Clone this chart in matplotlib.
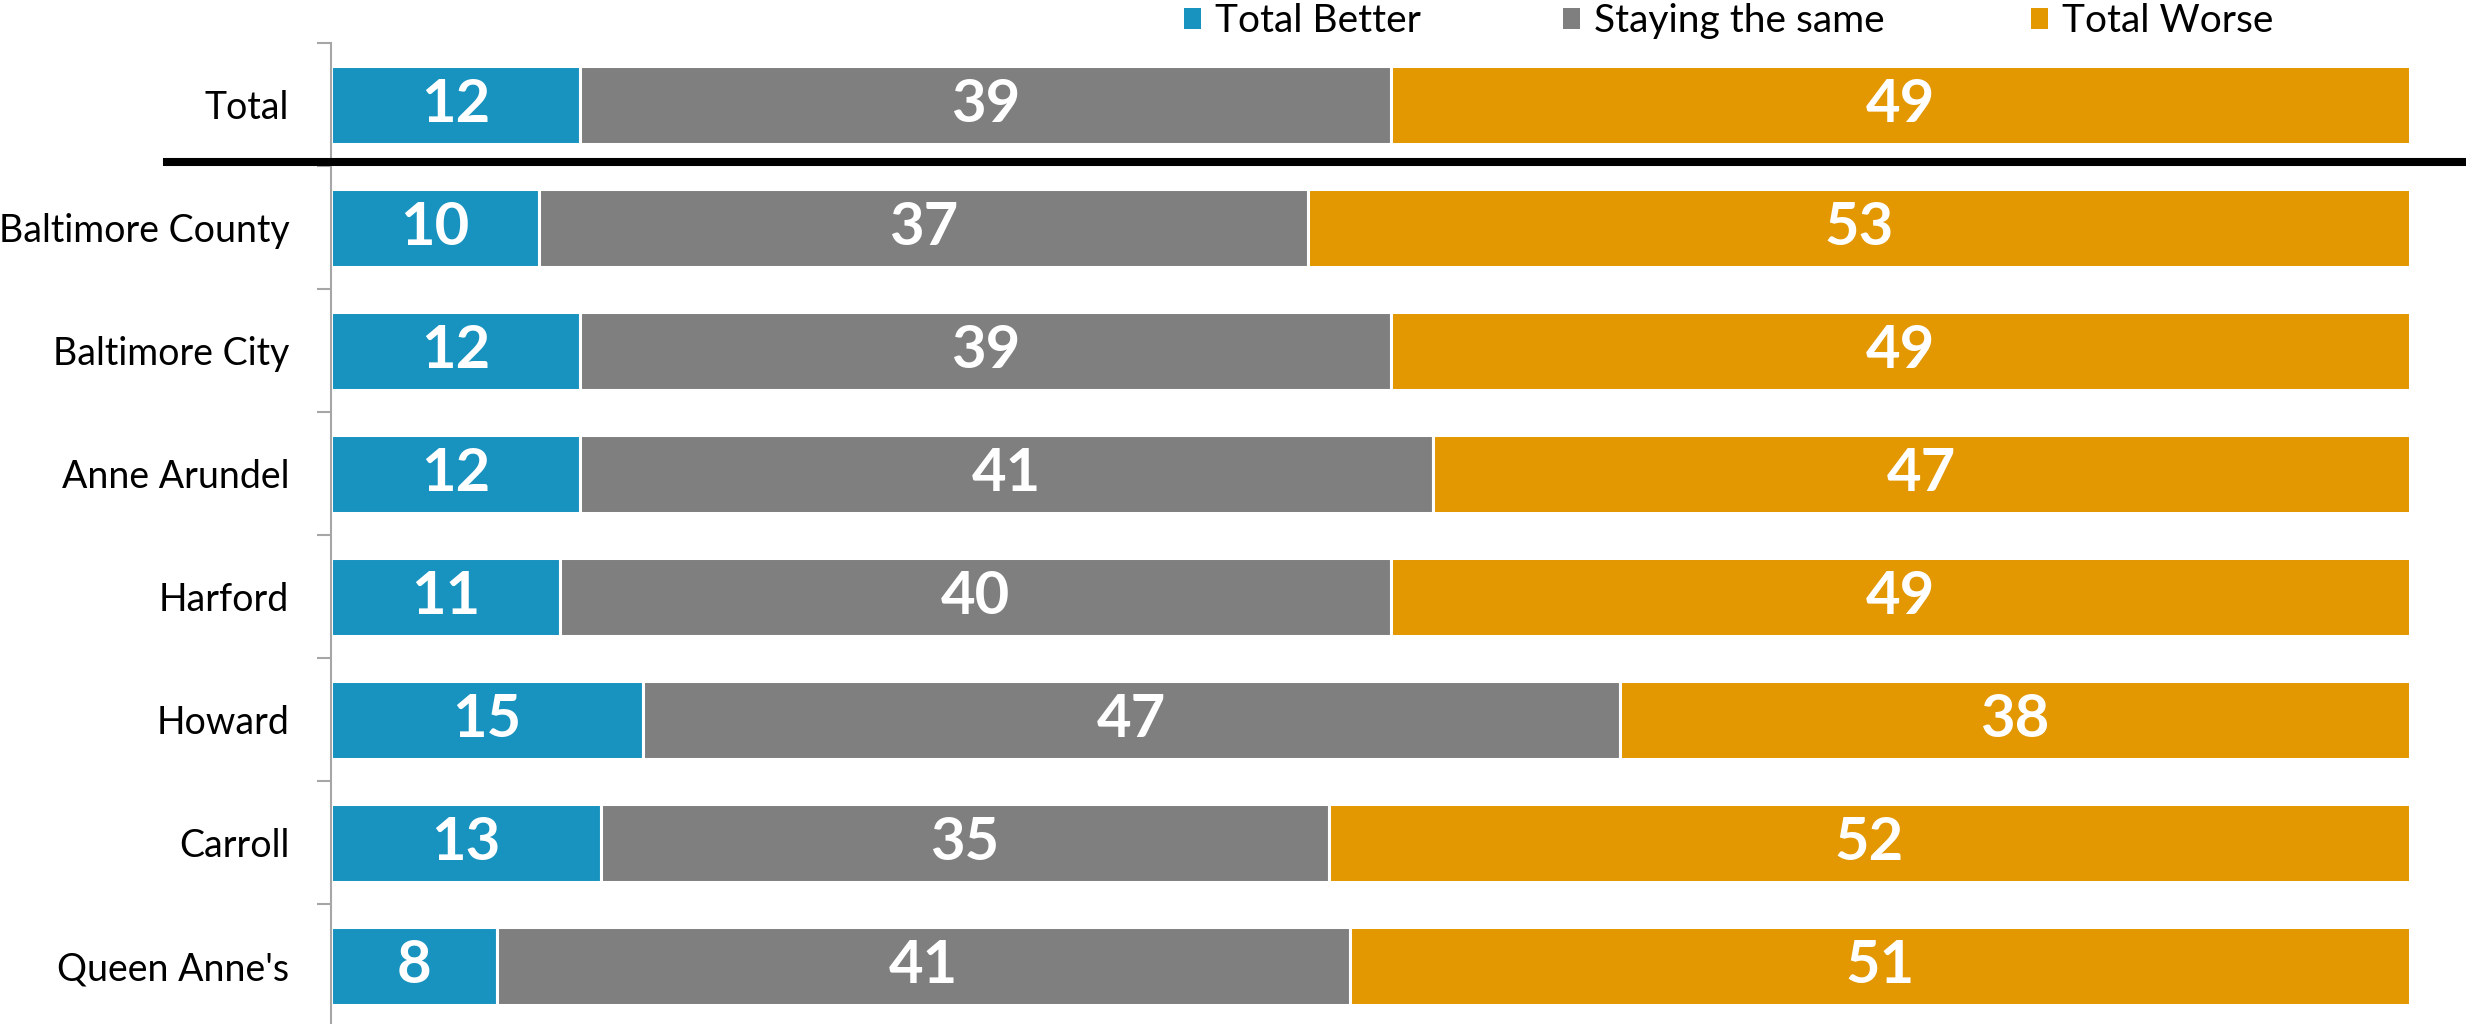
import matplotlib.pyplot as plt
from matplotlib.lines import Line2D
from matplotlib.patches import Patch

plt.rcParams['font.family'] = ['Lato', 'DejaVu Sans']

# data
categories = ['Total', 'Baltimore County', 'Baltimore City', 'Anne Arundel',
              'Harford', 'Howard', 'Carroll', "Queen Anne's"]
better = [12, 10, 12, 12, 11, 15, 13, 8]
same = [39, 37, 39, 41, 40, 47, 35, 41]
worse = [49, 53, 49, 47, 49, 38, 52, 51]
series_names = ['Total Better', 'Staying the same', 'Total Worse']
colors = ['#1893C0', '#7F7F7F', '#E39700']

fig = plt.figure(figsize=(24.66, 10.24), dpi=100)
ax = fig.add_axes([0.1342, -0.003, 0.8431, 0.961])

y = list(range(len(categories)))
left = [0] * len(categories)
for vals, col in zip([better, same, worse], colors):
    bars = ax.barh(y, vals, left=left, height=0.634, color=col,
                   edgecolor='white', linewidth=2.2)
    for b, v in zip(bars, vals):
        ax.text(b.get_x() + b.get_width() / 2, b.get_y() + b.get_height() / 2,
                str(v), ha='center', va='center', color='white',
                fontsize=43, fontweight='bold')
    left = [l + v for l, v in zip(left, vals)]

ax.set_xlim(0, 100)
ax.set_ylim(len(categories) - 0.5, -0.5)
ax.set_yticks(y)
ax.set_yticklabels(categories, fontsize=27)
ax.set_yticks([i - 0.5 for i in range(len(categories) + 1)], minor=True)
ax.tick_params(axis='y', which='major', length=0, pad=30)
ax.tick_params(axis='y', which='minor', length=10, width=1.5, color='#A6A6A6')
ax.set_xticks([])
for s in ['top', 'right', 'bottom']:
    ax.spines[s].set_visible(False)
ax.spines['left'].set_color('#A6A6A6')
ax.spines['left'].set_linewidth(1.5)

# heavy separator under the Total row
fig.add_artist(Line2D([0.0677, 1.0], [0.842, 0.842], color='black',
                      linewidth=5.8, transform=fig.transFigure))

# legend entries placed one by one, like the spreadsheet layout
legend_x = [0.4801, 0.6338, 0.8236]
for name, col, lx in zip(series_names, colors, legend_x):
    leg = fig.legend([Patch(facecolor=col, edgecolor='none')], [name],
                     loc='center left', bbox_to_anchor=(lx, 0.9795),
                     frameon=False, fontsize=28, handlelength=0.45,
                     handleheight=0.45, handletextpad=0.35,
                     borderpad=0, borderaxespad=0)

fig.savefig('out.png', dpi=100)
